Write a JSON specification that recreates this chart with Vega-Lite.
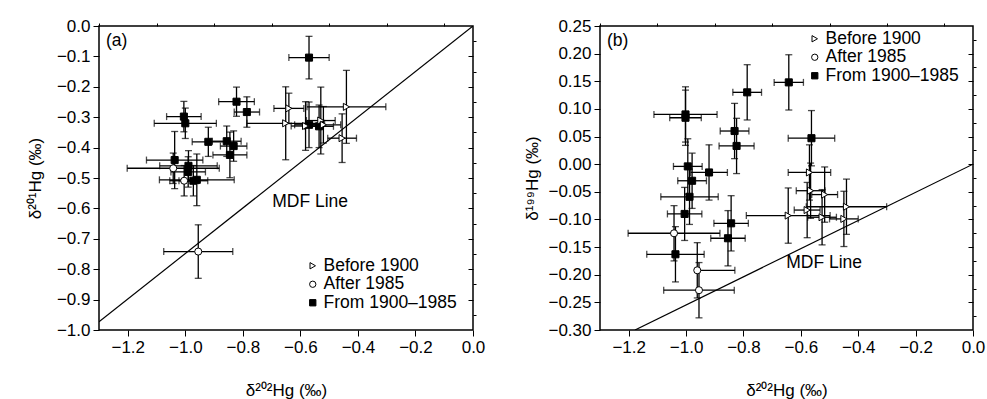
{
  "$schema": "https://vega.github.io/schema/vega-lite/v6.json",
  "autosize": {"type": "pad"},
  "padding": {"left": 25, "top": 16, "right": 5, "bottom": 5},
  "background": "white",
  "spacing": 127,
  "bounds": "flush",
  "config": {
    "font": "Liberation Sans",
    "view": {"stroke": "black", "strokeWidth": 1.5},
    "axis": {"domain": false, "grid": false, "tickColor": "black", "tickWidth": 1, "labelColor": "black", "titleColor": "black", "labelFont": "Liberation Sans", "titleFont": "Liberation Sans", "labelFontSize": 17, "titleFontSize": 17, "titleFontWeight": "normal", "labelFlush": false, "labelOverlap": false, "labelPadding": 3},
    "legend": {"labelFont": "Liberation Sans", "labelFontSize": 17.5, "labelColor": "black"}
  },
  "datasets": {
    "a": [
      {"g": "From 1900–1985", "x": -0.570, "y": -0.104, "xlo": -0.640, "xhi": -0.500, "ylo": -0.174, "yhi": -0.034},
      {"g": "From 1900–1985", "x": -0.822, "y": -0.249, "xlo": -0.884, "xhi": -0.760, "ylo": -0.297, "yhi": -0.201},
      {"g": "From 1900–1985", "x": -0.786, "y": -0.283, "xlo": -0.830, "xhi": -0.742, "ylo": -0.333, "yhi": -0.233},
      {"g": "From 1900–1985", "x": -1.005, "y": -0.298, "xlo": -1.065, "xhi": -0.945, "ylo": -0.348, "yhi": -0.248},
      {"g": "From 1900–1985", "x": -1.000, "y": -0.320, "xlo": -1.108, "xhi": -0.892, "ylo": -0.370, "yhi": -0.270},
      {"g": "From 1900–1985", "x": -0.920, "y": -0.381, "xlo": -0.976, "xhi": -0.864, "ylo": -0.429, "yhi": -0.333},
      {"g": "From 1900–1985", "x": -0.856, "y": -0.379, "xlo": -0.906, "xhi": -0.806, "ylo": -0.429, "yhi": -0.329},
      {"g": "From 1900–1985", "x": -0.832, "y": -0.395, "xlo": -0.878, "xhi": -0.786, "ylo": -0.445, "yhi": -0.345},
      {"g": "From 1900–1985", "x": -0.845, "y": -0.424, "xlo": -0.904, "xhi": -0.786, "ylo": -0.499, "yhi": -0.349},
      {"g": "From 1900–1985", "x": -1.037, "y": -0.441, "xlo": -1.135, "xhi": -0.939, "ylo": -0.535, "yhi": -0.347},
      {"g": "From 1900–1985", "x": -0.989, "y": -0.460, "xlo": -1.089, "xhi": -0.889, "ylo": -0.510, "yhi": -0.410},
      {"g": "From 1900–1985", "x": -0.990, "y": -0.480, "xlo": -1.050, "xhi": -0.930, "ylo": -0.530, "yhi": -0.430},
      {"g": "From 1900–1985", "x": -0.972, "y": -0.509, "xlo": -1.022, "xhi": -0.922, "ylo": -0.559, "yhi": -0.459},
      {"g": "From 1900–1985", "x": -0.960, "y": -0.506, "xlo": -1.090, "xhi": -0.830, "ylo": -0.591, "yhi": -0.421},
      {"g": "From 1900–1985", "x": -0.570, "y": -0.325, "xlo": -0.620, "xhi": -0.520, "ylo": -0.400, "yhi": -0.250},
      {"g": "From 1900–1985", "x": -0.535, "y": -0.330, "xlo": -0.585, "xhi": -0.485, "ylo": -0.400, "yhi": -0.260},
      {"g": "Before 1900", "x": -0.640, "y": -0.271, "xlo": -0.692, "xhi": -0.588, "ylo": -0.321, "yhi": -0.221},
      {"g": "Before 1900", "x": -0.651, "y": -0.320, "xlo": -0.786, "xhi": -0.516, "ylo": -0.440, "yhi": -0.200},
      {"g": "Before 1900", "x": -0.582, "y": -0.329, "xlo": -0.632, "xhi": -0.532, "ylo": -0.409, "yhi": -0.249},
      {"g": "Before 1900", "x": -0.529, "y": -0.311, "xlo": -0.579, "xhi": -0.479, "ylo": -0.421, "yhi": -0.201},
      {"g": "Before 1900", "x": -0.520, "y": -0.325, "xlo": -0.580, "xhi": -0.460, "ylo": -0.385, "yhi": -0.265},
      {"g": "Before 1900", "x": -0.455, "y": -0.369, "xlo": -0.505, "xhi": -0.405, "ylo": -0.449, "yhi": -0.289},
      {"g": "Before 1900", "x": -0.440, "y": -0.266, "xlo": -0.577, "xhi": -0.303, "ylo": -0.386, "yhi": -0.146},
      {"g": "After 1985", "x": -1.042, "y": -0.468, "xlo": -1.202, "xhi": -0.882, "ylo": -0.518, "yhi": -0.418},
      {"g": "After 1985", "x": -1.004, "y": -0.509, "xlo": -1.054, "xhi": -0.954, "ylo": -0.559, "yhi": -0.459},
      {"g": "After 1985", "x": -0.955, "y": -0.742, "xlo": -1.075, "xhi": -0.835, "ylo": -0.830, "yhi": -0.654}
    ],
    "b": [
      {"g": "From 1900–1985", "x": -0.642, "y": 0.148, "xlo": -0.693, "xhi": -0.591, "ylo": 0.098, "yhi": 0.198},
      {"g": "From 1900–1985", "x": -0.787, "y": 0.130, "xlo": -0.837, "xhi": -0.737, "ylo": 0.080, "yhi": 0.180},
      {"g": "From 1900–1985", "x": -1.002, "y": 0.090, "xlo": -1.112, "xhi": -0.892, "ylo": 0.040, "yhi": 0.140},
      {"g": "From 1900–1985", "x": -1.002, "y": 0.084, "xlo": -1.057, "xhi": -0.947, "ylo": 0.034, "yhi": 0.134},
      {"g": "From 1900–1985", "x": -0.831, "y": 0.060, "xlo": -0.881, "xhi": -0.781, "ylo": 0.010, "yhi": 0.110},
      {"g": "From 1900–1985", "x": -0.824, "y": 0.033, "xlo": -0.885, "xhi": -0.763, "ylo": -0.017, "yhi": 0.083},
      {"g": "From 1900–1985", "x": -0.563, "y": 0.047, "xlo": -0.644, "xhi": -0.482, "ylo": -0.003, "yhi": 0.097},
      {"g": "From 1900–1985", "x": -0.994, "y": -0.004, "xlo": -1.044, "xhi": -0.944, "ylo": -0.054, "yhi": 0.046},
      {"g": "From 1900–1985", "x": -0.920, "y": -0.015, "xlo": -0.984, "xhi": -0.856, "ylo": -0.065, "yhi": 0.035},
      {"g": "From 1900–1985", "x": -0.979, "y": -0.030, "xlo": -1.029, "xhi": -0.929, "ylo": -0.080, "yhi": 0.020},
      {"g": "From 1900–1985", "x": -0.988, "y": -0.059, "xlo": -1.088, "xhi": -0.888, "ylo": -0.109, "yhi": -0.009},
      {"g": "From 1900–1985", "x": -1.005, "y": -0.090, "xlo": -1.065, "xhi": -0.945, "ylo": -0.138, "yhi": -0.042},
      {"g": "From 1900–1985", "x": -0.843, "y": -0.107, "xlo": -0.903, "xhi": -0.783, "ylo": -0.157, "yhi": -0.057},
      {"g": "From 1900–1985", "x": -0.854, "y": -0.134, "xlo": -0.914, "xhi": -0.794, "ylo": -0.184, "yhi": -0.084},
      {"g": "From 1900–1985", "x": -1.037, "y": -0.163, "xlo": -1.137, "xhi": -0.937, "ylo": -0.213, "yhi": -0.113},
      {"g": "After 1985", "x": -1.042, "y": -0.125, "xlo": -1.202, "xhi": -0.882, "ylo": -0.175, "yhi": -0.075},
      {"g": "After 1985", "x": -0.961, "y": -0.192, "xlo": -0.961, "xhi": -0.830, "ylo": -0.242, "yhi": -0.142},
      {"g": "After 1985", "x": -0.955, "y": -0.228, "xlo": -1.078, "xhi": -0.832, "ylo": -0.278, "yhi": -0.178},
      {"g": "Before 1900", "x": -0.570, "y": -0.015, "xlo": -0.644, "xhi": -0.496, "ylo": -0.065, "yhi": 0.035},
      {"g": "Before 1900", "x": -0.566, "y": -0.048, "xlo": -0.616, "xhi": -0.516, "ylo": -0.098, "yhi": 0.002},
      {"g": "Before 1900", "x": -0.517, "y": -0.055, "xlo": -0.562, "xhi": -0.472, "ylo": -0.105, "yhi": -0.005},
      {"g": "Before 1900", "x": -0.441, "y": -0.077, "xlo": -0.581, "xhi": -0.301, "ylo": -0.127, "yhi": -0.027},
      {"g": "Before 1900", "x": -0.644, "y": -0.093, "xlo": -0.790, "xhi": -0.498, "ylo": -0.143, "yhi": -0.043},
      {"g": "Before 1900", "x": -0.578, "y": -0.083, "xlo": -0.623, "xhi": -0.533, "ylo": -0.133, "yhi": -0.033},
      {"g": "Before 1900", "x": -0.526, "y": -0.096, "xlo": -0.576, "xhi": -0.476, "ylo": -0.146, "yhi": -0.046},
      {"g": "Before 1900", "x": -0.450, "y": -0.099, "xlo": -0.500, "xhi": -0.400, "ylo": -0.149, "yhi": -0.049}
    ],
    "mdfa": [{"x": -1.3, "y": -0.973}, {"x": 0, "y": 0}],
    "mdfb": [{"x": -1.178, "y": -0.3}, {"x": 0, "y": 0}],
    "ta": [{"x": -1.276, "y": -0.049, "t": "(a)"}, {"x": -0.698, "y": -0.579, "t": "MDF Line"}],
    "tb": [{"x": -1.276, "y": 0.223, "t": "(b)"}, {"x": -0.651, "y": -0.179, "t": "MDF Line"}]
  },
  "resolve": {
    "scale": {"x": "independent", "y": "independent", "shape": "independent", "fill": "independent", "stroke": "independent"},
    "legend": {"shape": "independent", "fill": "independent", "stroke": "independent"}
  },
  "hconcat": [
    {
      "width": 374,
      "height": 304,
      "resolve": {"axis": {"x": "independent", "y": "independent"}},
      "layer": [
        {
          "data": {"name": "mdfa"},
          "mark": {"type": "line", "color": "black", "strokeWidth": 1.2, "clip": true},
          "encoding": {
            "x": {"field": "x", "type": "quantitative", "scale": {"domain": [-1.3, 0], "nice": false, "zero": false},
              "axis": {"title": "δ²⁰²Hg (‰)", "values": [-1.2, -1.0, -0.8, -0.6, -0.4, -0.2, 0], "format": ".1f", "tickSize": 6, "titlePadding": 27}},
            "y": {"field": "y", "type": "quantitative", "scale": {"domain": [-1, 0], "nice": false, "zero": false},
              "axis": {"title": "δ²⁰¹Hg (‰)", "values": [-1, -0.9, -0.8, -0.7, -0.6, -0.5, -0.4, -0.3, -0.2, -0.1, 0], "format": ".1f", "tickSize": 6, "titlePadding": 12}}
          }
        },
        {
          "data": {"name": "mdfa"},
          "mark": {"type": "line", "strokeOpacity": 0},
          "encoding": {
            "x": {"field": "x", "type": "quantitative", "scale": {"domain": [-1.3, 0], "nice": false, "zero": false},
              "axis": {"title": null, "labels": false, "values": [-1.3, -1.1, -0.9, -0.7, -0.5, -0.3, -0.1], "tickSize": 3}},
            "y": {"field": "y", "type": "quantitative", "scale": {"domain": [-1, 0], "nice": false, "zero": false},
              "axis": {"title": null, "labels": false, "values": [-0.95, -0.85, -0.75, -0.65, -0.55, -0.45, -0.35, -0.25, -0.15, -0.05], "tickSize": 3}}
          }
        },
        {
          "data": {"name": "mdfa"},
          "mark": {"type": "line", "strokeOpacity": 0},
          "encoding": {
            "x": {"field": "x", "type": "quantitative", "scale": {"domain": [-1.3, 0], "nice": false, "zero": false}, "axis": null},
            "y": {"field": "y", "type": "quantitative", "scale": {"domain": [-1, 0], "nice": false, "zero": false},
              "axis": {"orient": "right", "labels": false, "title": null, "values": [-0.9, -0.8, -0.7, -0.6, -0.5, -0.4, -0.3, -0.2, -0.1], "tickSize": 5, "offset": -5}}
          }
        },
        {
          "data": {"name": "a"},
          "mark": {"type": "errorbar", "ticks": {"size": 7, "color": "black"}, "color": "black", "thickness": 1.3},
          "encoding": {
            "x": {"field": "xlo", "type": "quantitative", "scale": {"domain": [-1.3, 0], "nice": false, "zero": false}, "axis": null},
            "x2": {"field": "xhi"},
            "y": {"field": "y", "type": "quantitative", "scale": {"domain": [-1, 0], "nice": false, "zero": false}, "axis": null}
          }
        },
        {
          "data": {"name": "a"},
          "mark": {"type": "errorbar", "ticks": {"size": 7, "color": "black"}, "color": "black", "thickness": 1.3},
          "encoding": {
            "y": {"field": "ylo", "type": "quantitative", "scale": {"domain": [-1, 0], "nice": false, "zero": false}, "axis": null},
            "y2": {"field": "yhi"},
            "x": {"field": "x", "type": "quantitative", "scale": {"domain": [-1.3, 0], "nice": false, "zero": false}, "axis": null}
          }
        },
        {
          "data": {"name": "a"},
          "mark": {"type": "point", "filled": true, "strokeWidth": 1, "size": 50, "opacity": 1},
          "encoding": {
            "x": {"field": "x", "type": "quantitative", "scale": {"domain": [-1.3, 0], "nice": false, "zero": false}, "axis": null},
            "y": {"field": "y", "type": "quantitative", "scale": {"domain": [-1, 0], "nice": false, "zero": false}, "axis": null},
            "shape": {"field": "g", "type": "nominal", "scale": {"domain": ["Before 1900", "After 1985", "From 1900–1985"], "range": ["triangle-right", "circle", "square"]},
              "legend": {"title": null, "orient": "none", "legendX": 205, "legendY": 231, "symbolSize": 40, "symbolStrokeWidth": 1, "rowPadding": -0.5, "labelOffset": 2, "padding": 0}},
            "fill": {"field": "g", "type": "nominal", "scale": {"domain": ["Before 1900", "After 1985", "From 1900–1985"], "range": ["white", "white", "black"]},
              "legend": {"title": null, "orient": "none", "legendX": 205, "legendY": 231, "symbolSize": 40, "symbolStrokeWidth": 1, "rowPadding": -0.5, "labelOffset": 2, "padding": 0}},
            "stroke": {"field": "g", "type": "nominal", "scale": {"domain": ["Before 1900", "After 1985", "From 1900–1985"], "range": ["black", "black", "black"]},
              "legend": {"title": null, "orient": "none", "legendX": 205, "legendY": 231, "symbolSize": 40, "symbolStrokeWidth": 1, "rowPadding": -0.5, "labelOffset": 2, "padding": 0}}
          }
        },
        {
          "data": {"name": "ta"},
          "mark": {"type": "text", "align": "left", "baseline": "middle", "fontSize": 17.5, "font": "Liberation Sans", "color": "black"},
          "encoding": {
            "x": {"field": "x", "type": "quantitative", "scale": {"domain": [-1.3, 0], "nice": false, "zero": false}, "axis": null},
            "y": {"field": "y", "type": "quantitative", "scale": {"domain": [-1, 0], "nice": false, "zero": false}, "axis": null},
            "text": {"field": "t"}
          }
        }
      ]
    },
    {
      "width": 373,
      "height": 304,
      "resolve": {"axis": {"x": "independent", "y": "independent"}},
      "layer": [
        {
          "data": {"name": "mdfb"},
          "mark": {"type": "line", "color": "black", "strokeWidth": 1.2, "clip": true},
          "encoding": {
            "x": {"field": "x", "type": "quantitative", "scale": {"domain": [-1.3, 0], "nice": false, "zero": false},
              "axis": {"title": "δ²⁰²Hg (‰)", "values": [-1.2, -1.0, -0.8, -0.6, -0.4, -0.2, 0], "format": ".1f", "tickSize": 6, "titlePadding": 27}},
            "y": {"field": "y", "type": "quantitative", "scale": {"domain": [-0.3, 0.25], "nice": false, "zero": false},
              "axis": {"title": "δ¹⁹⁹Hg (‰)", "values": [-0.3, -0.25, -0.2, -0.15, -0.1, -0.05, 0, 0.05, 0.1, 0.15, 0.2, 0.25], "format": ".2f", "tickSize": 6, "titlePadding": 6}}
          }
        },
        {
          "data": {"name": "mdfb"},
          "mark": {"type": "line", "strokeOpacity": 0},
          "encoding": {
            "x": {"field": "x", "type": "quantitative", "scale": {"domain": [-1.3, 0], "nice": false, "zero": false},
              "axis": {"title": null, "labels": false, "values": [-1.3, -1.1, -0.9, -0.7, -0.5, -0.3, -0.1], "tickSize": 3}},
            "y": {"field": "y", "type": "quantitative", "scale": {"domain": [-0.3, 0.25], "nice": false, "zero": false},
              "axis": {"title": null, "labels": false, "values": [-0.275, -0.225, -0.175, -0.125, -0.075, -0.025, 0.025, 0.075, 0.125, 0.175, 0.225], "tickSize": 3}}
          }
        },
        {
          "data": {"name": "mdfb"},
          "mark": {"type": "line", "strokeOpacity": 0},
          "encoding": {
            "x": {"field": "x", "type": "quantitative", "scale": {"domain": [-1.3, 0], "nice": false, "zero": false}, "axis": null},
            "y": {"field": "y", "type": "quantitative", "scale": {"domain": [-0.3, 0.25], "nice": false, "zero": false},
              "axis": {"orient": "right", "labels": false, "title": null, "values": [-0.25, -0.2, -0.15, -0.1, -0.05, 0, 0.05, 0.1, 0.15, 0.2], "tickSize": 5, "offset": -5}}
          }
        },
        {
          "data": {"name": "b"},
          "mark": {"type": "errorbar", "ticks": {"size": 7, "color": "black"}, "color": "black", "thickness": 1.3},
          "encoding": {
            "x": {"field": "xlo", "type": "quantitative", "scale": {"domain": [-1.3, 0], "nice": false, "zero": false}, "axis": null},
            "x2": {"field": "xhi"},
            "y": {"field": "y", "type": "quantitative", "scale": {"domain": [-0.3, 0.25], "nice": false, "zero": false}, "axis": null}
          }
        },
        {
          "data": {"name": "b"},
          "mark": {"type": "errorbar", "ticks": {"size": 7, "color": "black"}, "color": "black", "thickness": 1.3},
          "encoding": {
            "y": {"field": "ylo", "type": "quantitative", "scale": {"domain": [-0.3, 0.25], "nice": false, "zero": false}, "axis": null},
            "y2": {"field": "yhi"},
            "x": {"field": "x", "type": "quantitative", "scale": {"domain": [-1.3, 0], "nice": false, "zero": false}, "axis": null}
          }
        },
        {
          "data": {"name": "b"},
          "mark": {"type": "point", "filled": true, "strokeWidth": 1, "size": 50, "opacity": 1},
          "encoding": {
            "x": {"field": "x", "type": "quantitative", "scale": {"domain": [-1.3, 0], "nice": false, "zero": false}, "axis": null},
            "y": {"field": "y", "type": "quantitative", "scale": {"domain": [-0.3, 0.25], "nice": false, "zero": false}, "axis": null},
            "shape": {"field": "g", "type": "nominal", "scale": {"domain": ["Before 1900", "After 1985", "From 1900–1985"], "range": ["triangle-right", "circle", "square"]},
              "legend": {"title": null, "orient": "none", "legendX": 206, "legendY": 4, "symbolSize": 40, "symbolStrokeWidth": 1, "rowPadding": -0.5, "labelOffset": 2, "padding": 0}},
            "fill": {"field": "g", "type": "nominal", "scale": {"domain": ["Before 1900", "After 1985", "From 1900–1985"], "range": ["white", "white", "black"]},
              "legend": {"title": null, "orient": "none", "legendX": 206, "legendY": 4, "symbolSize": 40, "symbolStrokeWidth": 1, "rowPadding": -0.5, "labelOffset": 2, "padding": 0}},
            "stroke": {"field": "g", "type": "nominal", "scale": {"domain": ["Before 1900", "After 1985", "From 1900–1985"], "range": ["black", "black", "black"]},
              "legend": {"title": null, "orient": "none", "legendX": 206, "legendY": 4, "symbolSize": 40, "symbolStrokeWidth": 1, "rowPadding": -0.5, "labelOffset": 2, "padding": 0}}
          }
        },
        {
          "data": {"name": "tb"},
          "mark": {"type": "text", "align": "left", "baseline": "middle", "fontSize": 17.5, "font": "Liberation Sans", "color": "black"},
          "encoding": {
            "x": {"field": "x", "type": "quantitative", "scale": {"domain": [-1.3, 0], "nice": false, "zero": false}, "axis": null},
            "y": {"field": "y", "type": "quantitative", "scale": {"domain": [-0.3, 0.25], "nice": false, "zero": false}, "axis": null},
            "text": {"field": "t"}
          }
        }
      ]
    }
  ]
}
